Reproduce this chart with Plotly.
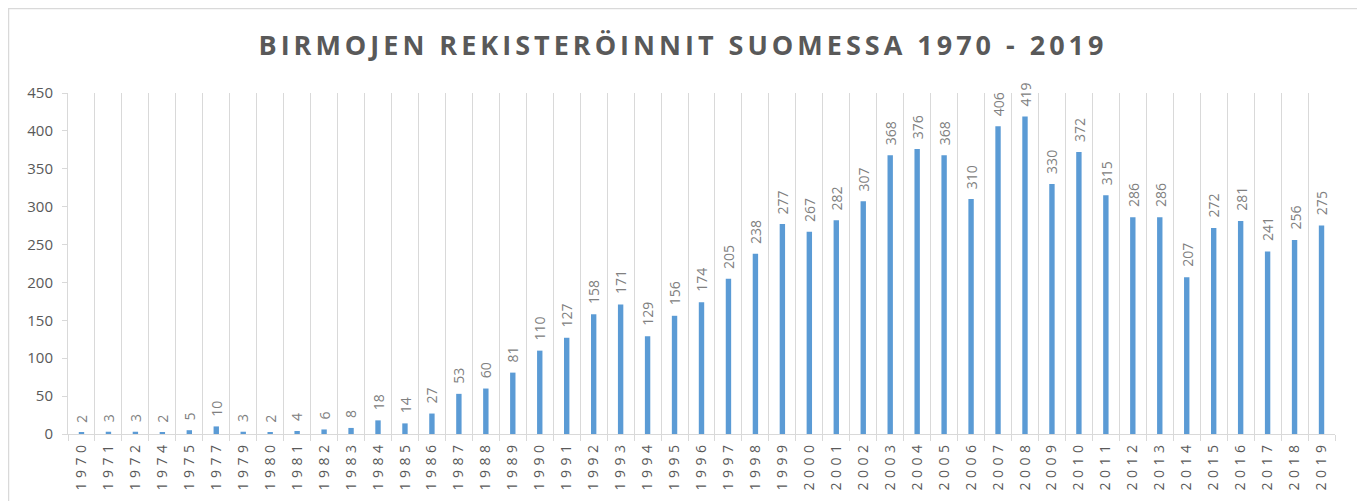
import plotly.graph_objects as go

years = [1970, 1971, 1972, 1974, 1975, 1977, 1979, 1980, 1981, 1982, 1983, 1984, 1985, 1986,
         1987, 1988, 1989, 1990, 1991, 1992, 1993, 1994, 1995, 1996, 1997, 1998, 1999, 2000,
         2001, 2002, 2003, 2004, 2005, 2006, 2007, 2008, 2009, 2010, 2011, 2012, 2013, 2014,
         2015, 2016, 2017, 2018, 2019]
counts = [2, 3, 3, 2, 5, 10, 3, 2, 4, 6, 8, 18, 14, 27,
          53, 60, 81, 110, 127, 158, 171, 129, 156, 174, 205, 238, 277, 267,
          282, 307, 368, 376, 368, 310, 406, 419, 330, 372, 315, 286, 286, 207,
          272, 281, 241, 256, 275]
y_ticks = [0, 50, 100, 150, 200, 250, 300, 350, 400, 450]
title = "BIRMOJEN REKISTERÖINNIT SUOMESSA 1970 - 2019"

cats = [str(y) for y in years]
tick_text = [f'<span style="letter-spacing:4.5px">{c}</span>' for c in cats]

# page body has an 8px margin, so figure coordinates are offset by 8px
W, H = 1357, 493
L, R, T, B = 60, 30, 85, 67
pw, ph = W - L - R, H - T - B

fig = go.Figure(go.Bar(
    x=cats, y=counts, width=0.2,
    marker=dict(color="#5B9BD5", line=dict(width=0)),
    hoverinfo="x+y",
))

annotations = [
    dict(x=i, y=v, xref="x", yref="y", text=str(v),
         textangle=-90, showarrow=False, xanchor="center", yanchor="bottom",
         yshift=8, font=dict(family="Open Sans", size=14, color="#808080"))
    for i, v in enumerate(counts)
]

fig.update_layout(
    width=W, height=H,
    margin=dict(l=L, r=R, t=T, b=B),
    paper_bgcolor="white", plot_bgcolor="white",
    showlegend=False,
    annotations=annotations,
    title=dict(text=f'<span style="letter-spacing:4px">{title}</span>',
               x=675 / W, xref="container", xanchor="center", y=1 - 38 / H, yref="container",
               yanchor="middle",
               font=dict(family="Open Sans", size=27, color="#595959", weight="bold")),
    xaxis=dict(type="category", tickmode="array", tickvals=cats, ticktext=tick_text,
               tickangle=-90, tickson="boundaries", showgrid=True, gridcolor="#d9d9d9",
               gridwidth=1, showline=True, linecolor="#d9d9d9", linewidth=1,
               ticks="outside", ticklen=6, tickcolor="#d9d9d9",
               tickfont=dict(family="Open Sans", size=14, color="#595959"),
               range=[-0.5, len(cats) - 0.5], automargin=False),
    yaxis=dict(range=[0, 450], tickvals=y_ticks, showgrid=False, zeroline=False,
               showline=True, linecolor="#d9d9d9", linewidth=1,
               ticks="outside", ticklen=5, tickcolor="#d9d9d9", ticklabelstandoff=6,
               tickfont=dict(family="Open Sans", size=15, color="#595959"),
               automargin=False),
)

fig.add_shape(type="rect", xref="paper", yref="paper",
              x0=(0.5 - L) / pw, x1=(1350 - L) / pw,
              y0=-(H + 10 - (T + ph)) / ph, y1=(T + ph - 0.5) / ph,
              line=dict(color="#d9d9d9", width=1.5), fillcolor="rgba(0,0,0,0)", layer="below")

fig.write_html("out.html")
